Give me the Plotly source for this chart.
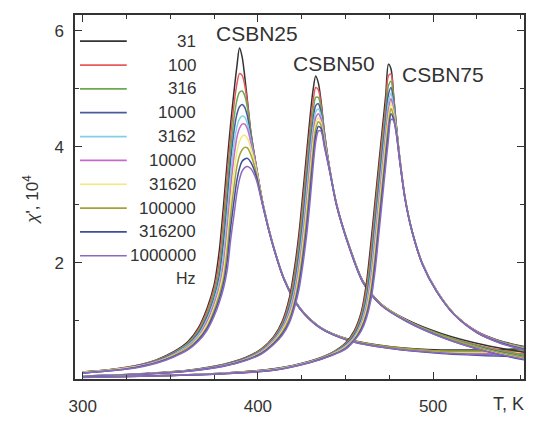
import plotly.graph_objects as go

# ---------------- data ----------------
freqs = ["31", "100", "316", "1000", "3162", "10000", "31620", "100000", "316200", "1000000"]
colors = ["#333333", "#e85a5c", "#6aaa50", "#4a5a9a", "#80d2e2", "#c46ac8",
          "#f0ea78", "#a5a23a", "#3f4f95", "#8a6ac0"]

# CSBN25
T25 = [300, 315, 330, 342, 352, 360, 366, 371, 375, 378, 380.5, 382.5, 384.5, 386.5, 388,
       389.5, 391, 392.5, 394, 396, 399, 403, 408, 415, 424, 436, 452, 475, 505, 552]
chi25 = [
    [0.12, 0.16, 0.23, 0.33, 0.47, 0.64, 0.88, 1.22, 1.62, 2.22, 3.03, 3.75, 4.41, 4.99, 5.38, 5.70, 5.55, 5.21, 4.80, 4.25, 3.68, 3.00, 2.38, 1.72, 1.22, 0.88, 0.68, 0.56, 0.50, 0.52],
    [0.12, 0.16, 0.23, 0.32, 0.46, 0.62, 0.85, 1.17, 1.55, 2.04, 2.81, 3.53, 4.20, 4.76, 5.08, 5.26, 5.23, 5.06, 4.76, 4.24, 3.68, 3.00, 2.38, 1.72, 1.22, 0.88, 0.68, 0.55, 0.48, 0.47],
    [0.12, 0.16, 0.22, 0.32, 0.45, 0.61, 0.82, 1.12, 1.48, 1.89, 2.59, 3.29, 3.99, 4.52, 4.80, 4.94, 4.96, 4.88, 4.68, 4.22, 3.67, 3.00, 2.38, 1.72, 1.22, 0.88, 0.68, 0.55, 0.48, 0.49],
    [0.11, 0.15, 0.22, 0.31, 0.44, 0.59, 0.79, 1.07, 1.40, 1.77, 2.38, 3.05, 3.77, 4.30, 4.56, 4.69, 4.73, 4.68, 4.53, 4.18, 3.66, 2.99, 2.38, 1.72, 1.22, 0.88, 0.67, 0.54, 0.46, 0.42],
    [0.11, 0.15, 0.21, 0.30, 0.43, 0.58, 0.76, 1.03, 1.35, 1.68, 2.19, 2.83, 3.54, 4.08, 4.34, 4.48, 4.53, 4.51, 4.40, 4.12, 3.65, 2.99, 2.37, 1.72, 1.22, 0.88, 0.67, 0.54, 0.46, 0.43],
    [0.11, 0.15, 0.21, 0.30, 0.42, 0.56, 0.73, 0.99, 1.29, 1.59, 2.02, 2.60, 3.31, 3.86, 4.16, 4.32, 4.39, 4.39, 4.31, 4.07, 3.64, 2.99, 2.37, 1.71, 1.21, 0.87, 0.67, 0.54, 0.46, 0.44],
    [0.11, 0.15, 0.21, 0.29, 0.41, 0.54, 0.71, 0.94, 1.23, 1.52, 1.87, 2.40, 3.06, 3.60, 3.91, 4.09, 4.18, 4.20, 4.15, 3.98, 3.61, 2.98, 2.37, 1.71, 1.21, 0.87, 0.67, 0.54, 0.47, 0.46],
    [0.10, 0.14, 0.20, 0.28, 0.40, 0.53, 0.69, 0.90, 1.18, 1.45, 1.75, 2.21, 2.84, 3.34, 3.66, 3.85, 3.95, 3.99, 3.98, 3.86, 3.56, 2.97, 2.36, 1.71, 1.21, 0.87, 0.67, 0.55, 0.48, 0.48],
    [0.10, 0.14, 0.20, 0.28, 0.39, 0.51, 0.67, 0.87, 1.13, 1.38, 1.66, 2.03, 2.62, 3.10, 3.42, 3.63, 3.75, 3.79, 3.80, 3.73, 3.50, 2.96, 2.36, 1.71, 1.21, 0.87, 0.66, 0.53, 0.44, 0.38],
    [0.10, 0.14, 0.19, 0.27, 0.38, 0.50, 0.65, 0.84, 1.08, 1.32, 1.58, 1.88, 2.41, 2.86, 3.20, 3.44, 3.58, 3.64, 3.66, 3.62, 3.44, 2.95, 2.36, 1.71, 1.21, 0.87, 0.66, 0.53, 0.45, 0.40],
]

# CSBN50
T50 = [300, 330, 360, 380, 393, 402, 409, 414, 418, 421, 423.5, 426, 428, 430, 431.5, 433,
       434.5, 436, 438, 441, 445, 452, 460, 470, 485, 505, 530, 552]
chi50 = [
    [0.05, 0.085, 0.150, 0.250, 0.370, 0.52, 0.730, 1.000, 1.400, 1.930, 2.520, 3.300, 3.950, 4.58, 4.98, 5.22, 5.10, 4.80, 4.25, 3.62, 3.00, 2.30, 1.68, 1.30, 1.02, 0.78, 0.58, 0.46],
    [0.05, 0.084, 0.148, 0.246, 0.364, 0.51, 0.715, 0.970, 1.345, 1.830, 2.400, 3.135, 3.785, 4.40, 4.78, 5.02, 4.98, 4.74, 4.23, 3.62, 3.00, 2.30, 1.68, 1.30, 1.01, 0.76, 0.55, 0.42],
    [0.05, 0.083, 0.146, 0.242, 0.358, 0.50, 0.700, 0.940, 1.290, 1.730, 2.275, 2.970, 3.620, 4.24, 4.60, 4.85, 4.85, 4.67, 4.21, 3.61, 2.99, 2.30, 1.68, 1.30, 1.01, 0.76, 0.54, 0.41],
    [0.05, 0.082, 0.144, 0.238, 0.352, 0.49, 0.685, 0.915, 1.240, 1.640, 2.150, 2.815, 3.460, 4.08, 4.45, 4.71, 4.74, 4.60, 4.18, 3.61, 2.99, 2.30, 1.68, 1.29, 1.00, 0.74, 0.52, 0.38],
    [0.05, 0.081, 0.142, 0.234, 0.346, 0.48, 0.670, 0.890, 1.190, 1.550, 2.040, 2.660, 3.300, 3.95, 4.33, 4.60, 4.65, 4.54, 4.15, 3.60, 2.99, 2.29, 1.67, 1.29, 1.00, 0.74, 0.51, 0.37],
    [0.04, 0.080, 0.140, 0.230, 0.340, 0.47, 0.655, 0.865, 1.140, 1.475, 1.930, 2.520, 3.135, 3.785, 4.20, 4.50, 4.57, 4.48, 4.12, 3.60, 2.99, 2.29, 1.67, 1.29, 1.00, 0.73, 0.50, 0.36],
    [0.04, 0.079, 0.138, 0.226, 0.334, 0.46, 0.640, 0.840, 1.090, 1.400, 1.830, 2.400, 2.970, 3.62, 4.07, 4.40, 4.49, 4.42, 4.08, 3.59, 2.98, 2.29, 1.67, 1.29, 1.00, 0.73, 0.50, 0.36],
    [0.04, 0.078, 0.136, 0.222, 0.328, 0.45, 0.625, 0.810, 1.045, 1.345, 1.730, 2.275, 2.815, 3.46, 3.93, 4.30, 4.43, 4.37, 4.05, 3.59, 2.98, 2.29, 1.67, 1.29, 1.00, 0.74, 0.51, 0.37],
    [0.04, 0.077, 0.134, 0.218, 0.322, 0.44, 0.610, 0.780, 1.000, 1.290, 1.640, 2.150, 2.660, 3.30, 3.79, 4.19, 4.35, 4.32, 4.02, 3.58, 2.98, 2.28, 1.66, 1.28, 0.99, 0.72, 0.48, 0.33],
    [0.04, 0.076, 0.132, 0.214, 0.316, 0.43, 0.595, 0.755, 0.970, 1.240, 1.550, 2.040, 2.520, 3.135, 3.65, 4.08, 4.27, 4.27, 3.99, 3.57, 2.98, 2.28, 1.66, 1.28, 0.99, 0.72, 0.48, 0.34],
]

# CSBN75
T75 = [300, 340, 380, 410, 430, 442, 450, 455, 459, 462, 464.5, 467, 469, 471, 473, 474.5,
       476, 477.5, 479, 481, 484, 488, 494, 502, 512, 525, 538, 552]
chi75 = [
    [0.030, 0.055, 0.100, 0.180, 0.310, 0.450, 0.620, 0.830, 1.150, 1.660, 2.340, 3.100, 3.700, 4.300, 4.90, 5.42, 5.34, 4.88, 4.38, 3.80, 3.12, 2.55, 1.98, 1.52, 1.12, 0.82, 0.66, 0.56],
    [0.030, 0.055, 0.099, 0.177, 0.307, 0.445, 0.608, 0.805, 1.107, 1.565, 2.196, 2.965, 3.565, 4.165, 4.72, 5.22, 5.25, 4.84, 4.37, 3.80, 3.12, 2.55, 1.98, 1.52, 1.12, 0.82, 0.65, 0.55],
    [0.030, 0.054, 0.098, 0.174, 0.304, 0.439, 0.596, 0.780, 1.064, 1.471, 2.070, 2.830, 3.430, 4.030, 4.59, 5.05, 5.13, 4.80, 4.36, 3.79, 3.12, 2.55, 1.98, 1.52, 1.12, 0.81, 0.65, 0.54],
    [0.029, 0.054, 0.096, 0.171, 0.301, 0.434, 0.584, 0.756, 1.022, 1.390, 1.942, 2.695, 3.295, 3.895, 4.46, 4.90, 5.02, 4.74, 4.34, 3.79, 3.12, 2.55, 1.98, 1.52, 1.12, 0.81, 0.64, 0.53],
    [0.029, 0.054, 0.095, 0.168, 0.298, 0.429, 0.572, 0.731, 0.979, 1.314, 1.828, 2.560, 3.160, 3.760, 4.33, 4.76, 4.92, 4.68, 4.32, 3.78, 3.11, 2.55, 1.98, 1.52, 1.12, 0.81, 0.64, 0.53],
    [0.029, 0.053, 0.094, 0.165, 0.295, 0.424, 0.560, 0.712, 0.944, 1.247, 1.720, 2.420, 3.025, 3.625, 4.21, 4.63, 4.83, 4.62, 4.30, 3.78, 3.11, 2.55, 1.98, 1.52, 1.12, 0.81, 0.64, 0.52],
    [0.028, 0.053, 0.093, 0.162, 0.292, 0.418, 0.548, 0.699, 0.915, 1.189, 1.618, 2.276, 2.890, 3.490, 4.08, 4.50, 4.75, 4.57, 4.28, 3.77, 3.11, 2.54, 1.98, 1.52, 1.12, 0.80, 0.63, 0.52],
    [0.028, 0.053, 0.092, 0.159, 0.289, 0.413, 0.536, 0.685, 0.885, 1.136, 1.524, 2.140, 2.755, 3.355, 3.95, 4.38, 4.66, 4.52, 4.26, 3.76, 3.11, 2.54, 1.97, 1.51, 1.12, 0.80, 0.63, 0.52],
    [0.028, 0.052, 0.090, 0.157, 0.286, 0.408, 0.525, 0.672, 0.856, 1.093, 1.433, 2.012, 2.620, 3.220, 3.82, 4.25, 4.57, 4.47, 4.24, 3.75, 3.10, 2.54, 1.97, 1.51, 1.11, 0.80, 0.63, 0.51],
    [0.027, 0.052, 0.089, 0.154, 0.283, 0.403, 0.513, 0.659, 0.827, 1.050, 1.357, 1.888, 2.484, 3.085, 3.685, 4.12, 4.47, 4.45, 4.22, 3.74, 3.10, 2.54, 1.97, 1.51, 1.11, 0.80, 0.62, 0.50],
]

families = [("CSBN25", T25, chi25), ("CSBN50", T50, chi50), ("CSBN75", T75, chi75)]
family_labels = ["CSBN25", "CSBN50", "CSBN75"]
label_pos_T = [399.6, 443.3, 505.9]
label_pos_chi = [5.96, 5.44, 5.24]

x_ticks = [300, 400, 500]
y_ticks = [2, 4, 6]

# ---------------- figure ----------------
FONT = "Liberation Sans, Arial, sans-serif"
INK = "#333333"

fig = go.Figure()
for name, T, rows in families:
    for i, row in enumerate(rows):
        fig.add_trace(go.Scatter(
            x=T, y=row, mode="lines", name=f"{name} {freqs[i]} Hz",
            line=dict(color=colors[i], width=1.5, shape="spline", smoothing=0.8),
            showlegend=False, hoverinfo="skip"))

for txt, tx, ty in zip(family_labels, label_pos_T, label_pos_chi):
    fig.add_annotation(x=tx, y=ty, text=txt, showarrow=False,
                       font=dict(family=FONT, size=21, color=INK),
                       xanchor="center", yanchor="middle")

# hand-made legend (lines left, right-aligned labels)
plot_top_px, plot_h_px, plot_l_px, plot_w_px = 15, 371, 75, 451
leg_y0_px, leg_dy_px = 41.7, 24.3
for i, (f, c) in enumerate(zip(freqs, colors)):
    ypx = leg_y0_px + leg_dy_px * i
    yp = 1 - (ypx - plot_top_px) / plot_h_px
    fig.add_shape(type="line", xref="paper", yref="paper",
                  x0=(80 - plot_l_px) / plot_w_px, x1=(127 - plot_l_px) / plot_w_px,
                  y0=yp, y1=yp, line=dict(color=c, width=1.7))
    fig.add_annotation(xref="paper", yref="paper", x=(199 - plot_l_px) / plot_w_px, y=yp,
                       text=f, showarrow=False, xanchor="right", yanchor="middle",
                       font=dict(family=FONT, size=17, color=INK))
ypx = leg_y0_px + leg_dy_px * len(freqs) - 1
fig.add_annotation(xref="paper", yref="paper", x=(199 - plot_l_px) / plot_w_px,
                   y=1 - (ypx - plot_top_px) / plot_h_px, text="Hz", showarrow=False,
                   xanchor="right", yanchor="middle", font=dict(family=FONT, size=16, color=INK))

# axis titles
fig.add_annotation(xref="paper", yref="paper", x=(30 - plot_l_px) / plot_w_px, y=0.493,
                   text="<i>χ</i>', 10<sup>4</sup>", textangle=-90, showarrow=False,
                   xanchor="center", yanchor="middle", font=dict(family=FONT, size=17, color=INK))
fig.add_annotation(xref="paper", yref="paper", x=1.005, y=-0.068, text="T, K",
                   showarrow=False, xanchor="right", yanchor="middle",
                   font=dict(family=FONT, size=18, color=INK))

axis_common = dict(showline=True, linecolor=INK, linewidth=1.5, mirror="ticks",
                   ticks="inside", ticklen=7, tickwidth=1.3, tickcolor=INK,
                   showgrid=False, zeroline=False,
                   tickfont=dict(family=FONT, size=17, color=INK))
fig.update_xaxes(range=[295.6, 551.9], tickmode="array", tickvals=x_ticks,
                 ticklabelstandoff=11,
                 minor=dict(ticks="inside", ticklen=4, tickwidth=1.2, tickcolor=INK,
                            dtick=25, tick0=300, showgrid=False),
                 **axis_common)
fig.update_yaxes(range=[0, 6.27], tickmode="array", tickvals=y_ticks,
                 ticklabelstandoff=6,
                 minor=dict(ticks="inside", ticklen=4, tickwidth=1.2, tickcolor=INK,
                            dtick=1, tick0=0, showgrid=False),
                 **axis_common)

fig.update_layout(width=533, height=423, margin=dict(l=75, r=7, t=15, b=37),
                  paper_bgcolor="white", plot_bgcolor="white", showlegend=False)

fig.write_html("out.html")
